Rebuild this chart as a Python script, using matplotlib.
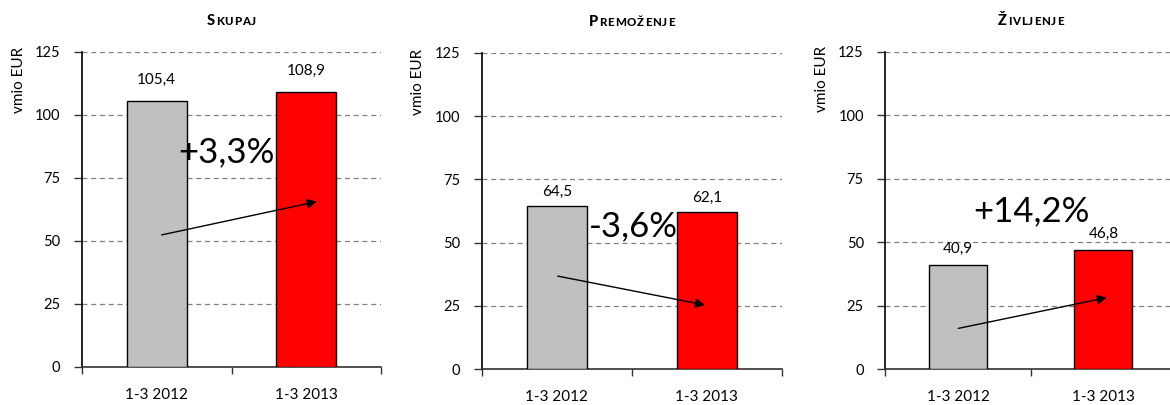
import matplotlib
matplotlib.use('Agg')
import matplotlib.pyplot as plt
from matplotlib.offsetbox import TextArea, HPacker, AnnotationBbox

plt.rcParams['font.family'] = ['Lato', 'DejaVu Sans']

# ---- data ----
categories = ['1-3 2012', '1-3 2013']
titles = ['Skupaj', 'Premoženje', 'Življenje']
values_skupaj = [105.4, 108.9]
values_premozenje = [64.5, 62.1]
values_zivljenje = [40.9, 46.8]
changes = ['+3,3%', '-3,6%', '+14,2%']
yticks = [0, 25, 50, 75, 100, 125]
ylabel = 'vmio EUR'

# ---- styling / layout ----
bar_colors = ['#C0C0C0', '#FF0000']
series = [values_skupaj, values_premozenje, values_zivljenje]
axes_rects = [
    [82 / 1170, 1 - 366.7 / 405, 299 / 1170, 315 / 405],
    [481.7 / 1170, 1 - 369.3 / 405, 300.3 / 1170, 316.6 / 405],
    [885.3 / 1170, 1 - 369.3 / 405, 290.8 / 1170, 317.6 / 405],
]
ylabel_pos = [(19 / 1170, 1 - 80 / 405), (418 / 1170, 1 - 82 / 405), (822 / 1170, 1 - 79 / 405)]
change_pos = [(0.463, 85.2), (0.508, 56.6), (0.502, 62.3)]
arrow_start = [(0.033, 52.3), (0.006, 36.8), (0.002, 16.1)]
arrow_end = [(1.07, 65.5), (0.987, 25.4), (1.023, 28.2)]
label_offsets = [10, 5, 6.5]
dark = '#333333'

fig = plt.figure(figsize=(11.7, 4.05), dpi=100)

for i, (title, vals) in enumerate(zip(titles, series)):
    ax = fig.add_axes(axes_rects[i])
    x = list(range(len(categories)))
    ax.bar(x, vals, width=0.4, color=bar_colors, edgecolor='black',
           linewidth=1.0, zorder=3)
    ax.set_xlim(-0.5, 1.5)
    ax.set_ylim(0, 125)
    ax.set_yticks(yticks)
    ax.set_yticklabels([str(t) for t in yticks], fontsize=10.5)
    ax.tick_params(axis='y', length=6, width=1, color=dark, pad=9.5, direction='out')
    # category boundary ticks (major) and labels (minor)
    ax.set_xticks([-0.5, 0.5, 1.5])
    ax.set_xticklabels(['', '', ''])
    ax.set_xticks(x, minor=True)
    ax.set_xticklabels(categories, minor=True, fontsize=11)
    ax.tick_params(axis='x', which='major', length=5, width=1, color=dark, direction='out')
    ax.tick_params(axis='x', which='minor', length=0, pad=15)
    for s in ['top', 'right']:
        ax.spines[s].set_visible(False)
    ax.spines['left'].set_color('black')
    ax.spines['bottom'].set_color(dark)
    ax.spines['left'].set_linewidth(1.2)
    ax.spines['bottom'].set_linewidth(1.2)
    ax.yaxis.grid(True, color='#808080', linestyle=(0, (4, 3)), linewidth=0.9, zorder=0)
    ax.set_axisbelow(True)

    # value labels
    for xi, v in zip(x, vals):
        ax.annotate(f'{v:.1f}'.replace('.', ','), (xi, v), xytext=(0, label_offsets[i]),
                    textcoords='offset points', ha='center', va='bottom', fontsize=11)

    # change label
    ax.text(change_pos[i][0], change_pos[i][1], changes[i], ha='center', va='center',
            fontsize=25, zorder=5)
    # arrow
    ax.annotate('', xy=arrow_end[i], xytext=arrow_start[i],
                arrowprops=dict(arrowstyle='-|>', color='black', lw=1.0,
                                mutation_scale=14, shrinkA=0, shrinkB=0), zorder=6)

    # small-caps bold title
    up = title.upper()
    parts = [TextArea(up[0], textprops=dict(fontsize=10.5, fontweight='black', color='black'))]
    for ch in up[1:]:
        parts.append(TextArea(ch, textprops=dict(fontsize=8.3, fontweight='black', color='black')))
    pack = HPacker(children=parts, align='baseline', pad=0, sep=0.6)
    ab = AnnotationBbox(pack, (0.5, 1.0), xycoords='axes fraction', xybox=(0, 17),
                        boxcoords='offset points', box_alignment=(0.5, 0), frameon=False)
    ax.add_artist(ab)

    fig.text(ylabel_pos[i][0], ylabel_pos[i][1], ylabel, rotation=90, ha='center',
             va='center', fontsize=11)

fig.savefig('out.png', dpi=100)
